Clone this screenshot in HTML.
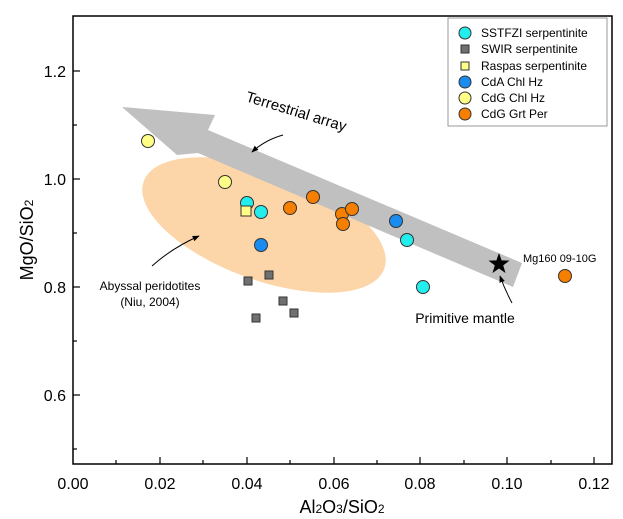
<!DOCTYPE html>
<html><head><meta charset="utf-8"><style>
body{margin:0;background:#fff}
svg{display:block;font-family:"Liberation Sans",Arial,sans-serif}
</style></head><body>
<svg width="623" height="519" viewBox="0 0 623 519" xmlns="http://www.w3.org/2000/svg">
<defs><marker id="ah" viewBox="0 0 10 10" refX="9" refY="5" markerWidth="7" markerHeight="7" orient="auto"><path d="M0,1 L10,5 L0,9 z" fill="#000"/></marker></defs>
<ellipse cx="264" cy="225" rx="128" ry="55" transform="rotate(20 264 225)" fill="#fcd5a8"/>
<polygon points="122,107 215,115 208,130 522,263 513,287 198,153 177,155" fill="#c0c0c0"/>
<g stroke="#333" stroke-width="1">
<circle cx="148" cy="141" r="6.5" fill="#ffff88"/>
<circle cx="225" cy="182" r="6.5" fill="#ffff88"/>
<circle cx="247" cy="203" r="6.5" fill="#22eeee"/>
<rect x="241" y="206" width="10" height="10" fill="#ffff88"/>
<circle cx="261" cy="212" r="6.5" fill="#22eeee"/>
<circle cx="261" cy="245" r="6.5" fill="#1a8cf0"/>
<circle cx="290" cy="208" r="6.5" fill="#f77f00"/>
<circle cx="313" cy="197" r="6.5" fill="#f77f00"/>
<circle cx="342" cy="214" r="6.5" fill="#f77f00"/>
<circle cx="352" cy="209" r="6.5" fill="#f77f00"/>
<circle cx="343" cy="224" r="6.5" fill="#f77f00"/>
<circle cx="396" cy="221" r="6.5" fill="#1a8cf0"/>
<circle cx="407" cy="240" r="6.5" fill="#22eeee"/>
<circle cx="423" cy="287" r="6.5" fill="#22eeee"/>
<circle cx="565" cy="276" r="6.5" fill="#f77f00"/>
<rect x="244" y="277" width="8" height="8" fill="#707070"/>
<rect x="265" y="271" width="8" height="8" fill="#707070"/>
<rect x="279" y="297" width="8" height="8" fill="#707070"/>
<rect x="290" y="309" width="8" height="8" fill="#707070"/>
<rect x="252" y="314" width="8" height="8" fill="#707070"/>
</g>
<polygon points="499,253 501.6,260.4 509.5,260.6 503.2,265.4 505.5,273 499,268.5 492.5,273 494.8,265.4 488.5,260.6 496.4,260.4" fill="#000"/>
<text x="523" y="262" font-size="11">Mg160 09-10G</text>
<text x="465" y="323" font-size="14" text-anchor="middle">Primitive mantle</text>
<path d="M512,303 Q505,290 500,276" fill="none" stroke="#000" stroke-width="1" marker-end="url(#ah)"/>
<text x="245" y="101" font-size="15" transform="rotate(17 245 101)">Terrestrial array</text>
<path d="M283,135 Q265,140 252,152" fill="none" stroke="#000" stroke-width="1" marker-end="url(#ah)"/>
<text x="150" y="290" font-size="12" text-anchor="middle">Abyssal peridotites</text>
<text x="150" y="306" font-size="12" text-anchor="middle">(Niu, 2004)</text>
<path d="M152,266 Q172,248 199,236" fill="none" stroke="#000" stroke-width="1" marker-end="url(#ah)"/>
<rect x="448" y="18" width="159" height="108" fill="#fff" stroke="#999" stroke-width="1"/>
<g font-size="12">
<circle cx="465" cy="33" r="6" fill="#22eeee" stroke="#333"/><text x="481" y="37">SSTFZI serpentinite</text>
<rect x="461" y="45" width="8" height="8" fill="#707070" stroke="#333"/><text x="481" y="53">SWIR serpentinite</text>
<rect x="461" y="62" width="8" height="8" fill="#ffff88" stroke="#333"/><text x="481" y="70">Raspas serpentinite</text>
<circle cx="465" cy="82" r="6" fill="#1a8cf0" stroke="#333"/><text x="481" y="86">CdA Chl Hz</text>
<circle cx="465" cy="98" r="6" fill="#ffff88" stroke="#333"/><text x="481" y="102">CdG Chl Hz</text>
<circle cx="465" cy="114" r="6" fill="#f77f00" stroke="#333"/><text x="481" y="118">CdG Grt Per</text>
</g>
<rect x="73" y="16" width="539" height="448" fill="none" stroke="#000" stroke-width="1.5"/>
<g stroke="#000" stroke-width="1.2">
<line x1="73" y1="71" x2="80" y2="71"/><line x1="73" y1="179" x2="80" y2="179"/><line x1="73" y1="287" x2="80" y2="287"/><line x1="73" y1="395" x2="80" y2="395"/>
<line x1="73" y1="125" x2="77" y2="125"/><line x1="73" y1="233" x2="77" y2="233"/><line x1="73" y1="341" x2="77" y2="341"/><line x1="73" y1="449" x2="77" y2="449"/>
<line x1="160" y1="464" x2="160" y2="457"/><line x1="247" y1="464" x2="247" y2="457"/><line x1="334" y1="464" x2="334" y2="457"/><line x1="420" y1="464" x2="420" y2="457"/><line x1="507" y1="464" x2="507" y2="457"/><line x1="594" y1="464" x2="594" y2="457"/>
<line x1="116" y1="464" x2="116" y2="460"/><line x1="203" y1="464" x2="203" y2="460"/><line x1="290" y1="464" x2="290" y2="460"/><line x1="377" y1="464" x2="377" y2="460"/><line x1="464" y1="464" x2="464" y2="460"/><line x1="551" y1="464" x2="551" y2="460"/>
</g>
<g font-size="16" text-anchor="end">
<text x="66" y="77">1.2</text><text x="66" y="185">1.0</text><text x="66" y="293">0.8</text><text x="66" y="401">0.6</text>
</g>
<g font-size="16" text-anchor="middle">
<text x="73" y="489">0.00</text><text x="160" y="489">0.02</text><text x="247" y="489">0.04</text><text x="334" y="489">0.06</text><text x="420" y="489">0.08</text><text x="507" y="489">0.10</text><text x="594" y="489">0.12</text>
</g>
<text x="342" y="513" font-size="18" text-anchor="middle">Al<tspan font-size="12">2</tspan>O<tspan font-size="12">3</tspan>/SiO<tspan font-size="12">2</tspan></text>
<text transform="translate(33,240) rotate(-90)" font-size="18" text-anchor="middle">MgO/SiO<tspan font-size="12">2</tspan></text>
</svg>
</body></html>
